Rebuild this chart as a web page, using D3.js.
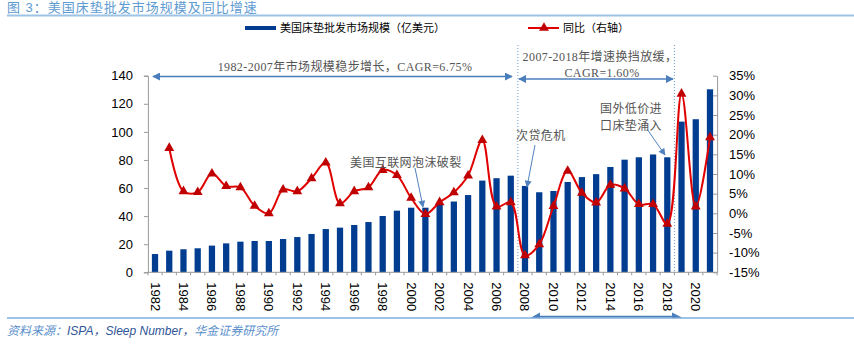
<!DOCTYPE html>
<html>
<head>
<meta charset="utf-8">
<script src="https://cdn.jsdelivr.net/npm/d3@7/dist/d3.min.js"></script>
<style>
  body { margin: 0; background: #fff; }
  svg { display: block; }
  text { font-family: "Liberation Sans", Arial, "Noto Sans CJK SC", sans-serif; }
  .note { font-family: "Liberation Serif", "Noto Sans CJK SC", serif; font-size: 12px; fill: #555; letter-spacing: 0.4px; }
</style>
</head>
<body>
<div id="chart"></div>
<script>
// categories and series
var years = d3.range(1982, 2022);
var marketSize = [13.0, 15.4, 16.4, 17.1, 19.0, 20.6, 21.8, 22.3, 22.3, 23.7,
                  25.1, 27.3, 30.8, 31.8, 33.7, 35.8, 40.1, 43.9, 46.0, 46.0,
                  48.0, 50.4, 55.0, 65.3, 67.0, 68.8, 61.5, 57.0, 57.9, 64.3,
                  67.8, 69.9, 75.0, 80.2, 81.9, 83.9, 81.9, 107.3, 109.0, 130.3];
// yoy growth in %, first year has no value
var growth = [null, 16.6, 5.6, 5.4, 10.1, 6.9, 6.6, 1.9, 0.0, 6.0, 5.6,
              8.9, 12.9, 2.5, 5.6, 6.6, 11.0, 9.7, 3.9, -0.2, 2.8,
              5.3, 9.6, 18.6, 1.7, 2.8, -10.7, -7.9, 1.8, 10.8, 5.2,
              2.7, 7.2, 6.3, 2.3, 2.3, -2.7, 30.4, 1.7, 19.3];
var leftTicks = [0, 20, 40, 60, 80, 100, 120, 140];
var rightTicks = [-15, -10, -5, 0, 5, 10, 15, 20, 25, 30, 35];
var xLabelYears = d3.range(1982, 2022, 2);

var titleText = "图 3：美国床垫批发市场规模及同比增速";
var legendBar = "美国床垫批发市场规模（亿美元）";
var legendLine = "同比（右轴）";

var width = 854, height = 345;
var x0 = 147.9, x1 = 717.1, yTop = 75.7, yBot = 272.3;

var svg = d3.select("#chart").append("svg")
    .attr("width", width)
    .attr("height", height);

var defs = svg.append("defs");
defs.append("marker")
    .attr("id", "head")
    .attr("viewBox", "0 0 10 10")
    .attr("refX", 9).attr("refY", 5)
    .attr("markerWidth", 8).attr("markerHeight", 8)
    .attr("markerUnits", "userSpaceOnUse")
    .attr("orient", "auto-start-reverse")
    .append("path").attr("d", "M0,0L10,5L0,10Z").attr("fill", "#4a7ebb");
defs.append("marker")
    .attr("id", "headSmall")
    .attr("viewBox", "0 0 10 10")
    .attr("refX", 9).attr("refY", 5)
    .attr("markerWidth", 8).attr("markerHeight", 7)
    .attr("markerUnits", "userSpaceOnUse")
    .attr("orient", "auto")
    .append("path").attr("d", "M0,0L10,5L0,10Z").attr("fill", "#4f81bd");

// title + rule
svg.append("text")
    .attr("x", 7).attr("y", 12)
    .attr("font-size", 13).attr("letter-spacing", 1)
    .attr("fill", "#5e9bd1")
    .text(titleText);
svg.append("line")
    .attr("x1", 7).attr("x2", width).attr("y1", 15.5).attr("y2", 15.5)
    .attr("stroke", "#9dc3e6").attr("stroke-width", 2);

// scales
var x = d3.scaleBand()
    .domain(years)
    .range([x0, x1])
    .paddingInner(0.56)
    .paddingOuter(0.28);
var yL = d3.scaleLinear().domain([0, 140]).range([yBot, yTop]);
var yR = d3.scaleLinear().domain([-15, 35]).range([yBot, yTop]);

function cx(year) { return x(year) + x.bandwidth() / 2; }

// bars
svg.append("g").selectAll("rect")
    .data(years)
    .enter().append("rect")
    .attr("x", function(d) { return x(d); })
    .attr("width", x.bandwidth())
    .attr("y", function(d, i) { return yL(marketSize[i]); })
    .attr("height", function(d, i) { return yBot - yL(marketSize[i]); })
    .attr("fill", "#003d91");

// dotted period separators
var step = x.step();
[2007, 2018].forEach(function(yr) {
    var sx = cx(yr) + step / 2;
    svg.append("line")
        .attr("x1", sx).attr("x2", sx)
        .attr("y1", 45).attr("y2", yBot)
        .attr("stroke", "#6a9bd0").attr("stroke-width", 1)
        .attr("stroke-dasharray", "1,2");
});

// left axis
var axisL = svg.append("g")
    .attr("transform", "translate(" + x0 + ",0)")
    .call(d3.axisLeft(yL).tickValues(leftTicks).tickSize(4).tickPadding(11));
axisL.select(".domain").attr("stroke", "#999");
axisL.selectAll(".tick line").attr("stroke", "#999");
axisL.selectAll("text").attr("font-size", 13).attr("fill", "#000");

// right axis, ticks pointing inward
var axisR = svg.append("g")
    .attr("transform", "translate(" + x1 + ",0)")
    .call(d3.axisRight(yR).tickValues(rightTicks).tickSizeInner(-4).tickSizeOuter(0)
        .tickPadding(12).tickFormat(function(d) { return d + "%"; }));
axisR.select(".domain").attr("stroke", "#999");
axisR.selectAll(".tick line").attr("stroke", "#999");
axisR.selectAll("text").attr("font-size", 13).attr("fill", "#000");

// category axis
svg.append("line")
    .attr("x1", x0).attr("x2", x1).attr("y1", yBot).attr("y2", yBot)
    .attr("stroke", "#999");
svg.append("g").selectAll("line")
    .data(years.concat([2022]))
    .enter().append("line")
    .attr("x1", function(d) { return x0 + (d - 1982) * step; })
    .attr("x2", function(d) { return x0 + (d - 1982) * step; })
    .attr("y1", yBot).attr("y2", yBot + 3)
    .attr("stroke", "#999");
svg.append("g").selectAll("text")
    .data(xLabelYears)
    .enter().append("text")
    .attr("transform", function(d) { return "translate(" + (cx(d) - 4.5) + "," + (yBot + 10) + ") rotate(90)"; })
    .attr("font-size", 13)
    .attr("fill", "#000")
    .text(function(d) { return d; });

// growth line
var pts = years.map(function(d, i) { return { year: d, v: growth[i] }; })
    .filter(function(d) { return d.v !== null; });
var line = d3.line()
    .x(function(d) { return cx(d.year); })
    .y(function(d) { return yR(d.v); })
    .curve(d3.curveCatmullRom.alpha(0.5));
svg.append("path")
    .datum(pts)
    .attr("d", line)
    .attr("fill", "none")
    .attr("stroke", "#e00000")
    .attr("stroke-width", 2);
var tri = d3.symbol().type(d3.symbolTriangle).size(42);
svg.append("g").selectAll("path")
    .data(pts)
    .enter().append("path")
    .attr("d", tri)
    .attr("transform", function(d) { return "translate(" + cx(d.year) + "," + yR(d.v) + ")"; })
    .attr("fill", "#c00000");

// legend
svg.append("rect")
    .attr("x", 245).attr("y", 26).attr("width", 31).attr("height", 4)
    .attr("fill", "#003d91");
svg.append("text")
    .attr("x", 280).attr("y", 32)
    .attr("font-size", 11).attr("fill", "#000")
    .text(legendBar);
svg.append("line")
    .attr("x1", 528).attr("x2", 559).attr("y1", 28).attr("y2", 28)
    .attr("stroke", "#e00000").attr("stroke-width", 2);
svg.append("path")
    .attr("d", tri)
    .attr("transform", "translate(544,28)")
    .attr("fill", "#c00000");
svg.append("text")
    .attr("x", 563).attr("y", 32)
    .attr("font-size", 11).attr("fill", "#000")
    .text(legendLine);

// period arrows
svg.append("line")
    .attr("x1", 153).attr("x2", 512).attr("y1", 76.5).attr("y2", 76.5)
    .attr("stroke", "#4a7ebb").attr("stroke-width", 1.5)
    .attr("marker-start", "url(#head)").attr("marker-end", "url(#head)");
svg.append("text").attr("class", "note")
    .attr("x", 345).attr("y", 71).attr("text-anchor", "middle")
    .text("1982-2007年市场规模稳步增长，CAGR=6.75%");

svg.append("line")
    .attr("x1", 519).attr("x2", 673).attr("y1", 79).attr("y2", 79)
    .attr("stroke", "#4a7ebb").attr("stroke-width", 1.5)
    .attr("marker-start", "url(#head)").attr("marker-end", "url(#head)");
svg.append("text").attr("class", "note")
    .attr("x", 600).attr("y", 61).attr("text-anchor", "middle")
    .text("2007-2018年增速换挡放缓，");
svg.append("text").attr("class", "note")
    .attr("x", 602).attr("y", 77).attr("text-anchor", "middle")
    .text("CAGR=1.60%");

// event callouts
function callout(lines, tx, ty, ax1, ay1, ax2, ay2) {
    lines.forEach(function(t, i) {
        svg.append("text").attr("class", "note")
            .attr("x", tx).attr("y", ty + i * 17)
            .text(t);
    });
    svg.append("line")
        .attr("x1", ax1).attr("y1", ay1).attr("x2", ax2).attr("y2", ay2)
        .attr("stroke", "#4f81bd").attr("stroke-width", 1)
        .attr("marker-end", "url(#headSmall)");
}
callout(["美国互联网泡沫破裂"], 350, 167, 415, 168, 423, 207);
callout(["次贷危机"], 516, 140, 535, 145, 527, 187);
callout(["国外低价进", "口床垫涌入"], 600, 113, 647, 129, 665, 155);

// footer rule with the trailing arrow sitting on it
svg.append("line")
    .attr("x1", 7).attr("x2", width).attr("y1", 318).attr("y2", 318)
    .attr("stroke", "#9dc3e6").attr("stroke-width", 2);
svg.append("line")
    .attr("x1", 536).attr("x2", 676).attr("y1", 316.5).attr("y2", 316.5)
    .attr("stroke", "#4a7ebb").attr("stroke-width", 1.5);
svg.append("path")
    .attr("d", "M531,317.5L540,312.5L540,317.5Z M682,317.5L672,312.5L672,317.5Z")
    .attr("fill", "#4a7ebb");

// source line
var src = svg.append("text")
    .attr("x", 7).attr("y", 335)
    .attr("font-size", 12).attr("font-style", "italic");
src.append("tspan").attr("fill", "#5b8fcb").text("资料来源：");
src.append("tspan").attr("fill", "#2f5597").text("ISPA，Sleep Number，");
src.append("tspan").attr("fill", "#5b8fcb").text("华金证券研究所");
</script>
</body>
</html>
